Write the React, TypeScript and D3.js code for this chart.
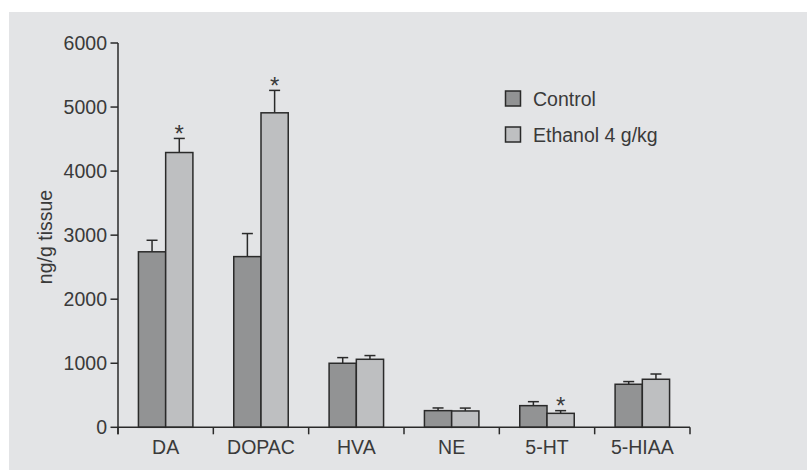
import React from "react";
import * as d3 from "d3";

const categories = ["DA", "DOPAC", "HVA", "NE", "5-HT", "5-HIAA"];
const seriesNames = ["Control", "Ethanol 4 g/kg"];
const controlValues = [2740, 2665, 1000, 260, 338, 672];
const controlErrors = [180, 360, 88, 42, 62, 42];
const ethanolValues = [4290, 4910, 1062, 255, 218, 750];
const ethanolErrors = [220, 350, 58, 45, 42, 82];
const ethanolSignificant = [true, true, false, false, true, false];
const yTicks = [0, 1000, 2000, 3000, 4000, 5000, 6000];
const yLabel = "ng/g tissue";

const W = 807;
const H = 470;
const FONT = "'Liberation Sans', Arial, Helvetica, sans-serif";
const TEXT = "#3a3a3a";
const AXIS = "#2a2a2a";
const COLORS = ["#929394", "#bebfc1"];

export default function App() {
  const x0 = d3.scaleBand<string>().domain(categories).range([118, 690]).padding(0);
  const x1 = d3
    .scaleBand<string>()
    .domain(seriesNames)
    .range([0, x0.bandwidth()])
    .paddingInner(0)
    .paddingOuter(0.75);
  const y = d3.scaleLinear().domain([0, 6000]).range([427.3, 43]);

  const series = [
    { name: seriesNames[0], values: controlValues, errors: controlErrors, sig: categories.map(() => false) },
    { name: seriesNames[1], values: ethanolValues, errors: ethanolErrors, sig: ethanolSignificant },
  ];

  const boundaries = [...categories.map((c) => x0(c) as number), 690];
  const y0 = y(0);

  return (
    <svg
      width={W}
      height={H}
      style={{ position: "absolute", left: 0, top: 0, display: "block" }}
      fontFamily={FONT}
    >
      <rect x={0} y={0} width={W} height={H} fill="#ffffff" />
      <rect x={9} y={12} width={W - 9} height={H - 12} fill="#e3e4e6" />

      {/* bars */}
      {categories.map((c, i) => (
        <g key={c}>
          {series.map((s, si) => {
            const bx = (x0(c) as number) + (x1(s.name) as number);
            const bw = x1.bandwidth();
            const top = y(s.values[i]);
            const errTop = y(s.values[i] + s.errors[i]);
            const cx = bx + bw / 2;
            return (
              <g key={s.name}>
                <line x1={cx} x2={cx} y1={top} y2={errTop} stroke={AXIS} strokeWidth={1.5} />
                <line x1={cx - 5.5} x2={cx + 5.5} y1={errTop} y2={errTop} stroke={AXIS} strokeWidth={1.5} />
                <rect
                  x={bx}
                  y={top}
                  width={bw}
                  height={y0 - top}
                  fill={COLORS[si]}
                  stroke={AXIS}
                  strokeWidth={1.5}
                />
                {s.sig[i] && (
                  <text x={cx} y={errTop + 3.5} textAnchor="middle" fontSize={24} fill={TEXT}>
                    *
                  </text>
                )}
              </g>
            );
          })}
        </g>
      ))}

      {/* y axis */}
      <line x1={118} x2={118} y1={y(6000)} y2={y0 + 7} stroke={AXIS} strokeWidth={1.5} />
      {yTicks.map((t) => (
        <g key={t}>
          <line x1={110.5} x2={118} y1={y(t)} y2={y(t)} stroke={AXIS} strokeWidth={1.5} />
          <text x={107} y={y(t)} dy="0.36em" textAnchor="end" fontSize={19.5} fill={TEXT}>
            {t}
          </text>
        </g>
      ))}

      {/* x axis */}
      <line x1={118} x2={690} y1={y0} y2={y0} stroke={AXIS} strokeWidth={1.5} />
      {boundaries.map((b, i) => (
        <line key={i} x1={b} x2={b} y1={y0} y2={y0 + 7} stroke={AXIS} strokeWidth={1.5} />
      ))}
      {categories.map((c) => (
        <text
          key={c}
          x={(x0(c) as number) + x0.bandwidth() / 2}
          y={454}
          textAnchor="middle"
          fontSize={19.5}
          fill={TEXT}
        >
          {c}
        </text>
      ))}

      {/* y label */}
      <text
        transform={`translate(52, 237) rotate(-90)`}
        textAnchor="middle"
        fontSize={19.5}
        fill={TEXT}
      >
        {yLabel}
      </text>

      {/* legend */}
      {seriesNames.map((n, i) => (
        <g key={n} transform={`translate(505.5, ${91 + i * 36})`}>
          <rect x={0} y={0} width={15} height={15} fill={COLORS[i]} stroke={AXIS} strokeWidth={1.5} />
          <text x={27.5} y={15} fontSize={19.5} fill={TEXT}>
            {n}
          </text>
        </g>
      ))}
    </svg>
  );
}
